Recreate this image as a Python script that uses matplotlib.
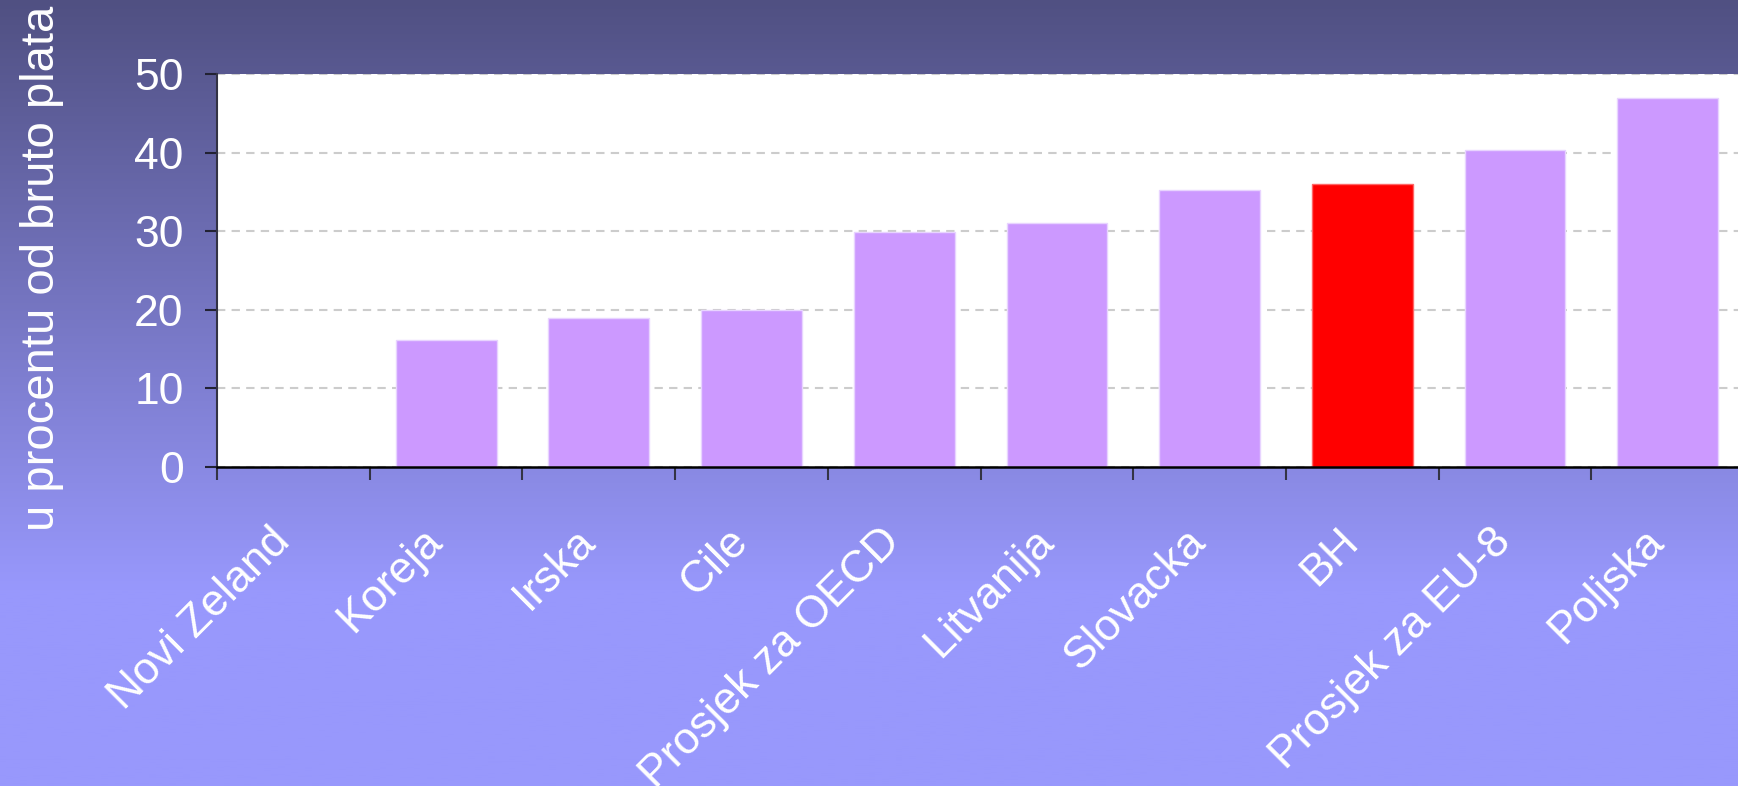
import numpy as np
import matplotlib
matplotlib.use('Agg')
import matplotlib.pyplot as plt
from matplotlib.transforms import ScaledTranslation

categories = ['Novi Zeland', 'Koreja', 'Irska', 'Cile', 'Prosjek za OECD',
              'Litvanija', 'Slovacka', 'BH', 'Prosjek za EU-8', 'Poljska']
values = [0, 16.1, 18.9, 20.0, 29.9, 31.0, 35.3, 36.0, 40.3, 46.9]
highlight = 'BH'
yticks = [0, 10, 20, 30, 40, 50]
ylabel = 'u procentu od bruto plata'

plt.rcParams['font.family'] = ['Liberation Sans', 'DejaVu Sans']

fig = plt.figure(figsize=(17.38, 7.86), dpi=100)

# background gradient
bg = fig.add_axes([0, 0, 1, 1], zorder=-10)
n = 400
t = np.linspace(0, 1, n)  # 0 = top
f = np.clip(t / 0.75, 0, 1)
top = np.array([80, 80, 130]) / 255
bot = np.array([152, 152, 252]) / 255
grad = top[None, :] * (1 - f[:, None]) + bot[None, :] * f[:, None]
bg.imshow(grad[:, None, :], aspect='auto', extent=[0, 1, 0, 1])
bg.set_axis_off()

ax = fig.add_axes([0.1249, 0.4059, 0.8786, 0.5])
ax.set_facecolor('white')
x = np.arange(len(categories)) + 0.5
colors = ['#FF0000' if c == highlight else '#CC99FF' for c in categories]
edges = ['#FF6666' if c == highlight else '#E8D4FF' for c in categories]
ax.bar(x, values, width=0.66, color=colors, edgecolor=edges, linewidth=1, zorder=3)

ax.set_xlim(0, len(categories))
ax.set_ylim(0, 50)
ax.set_yticks(yticks)
ax.yaxis.grid(True, color='#cccccc', linewidth=1.5, linestyle=(0, (4, 3)), zorder=1)
ax.set_axisbelow(True)

ax.set_xticks(np.arange(len(categories)))
ax.set_xticks(x, minor=True)
ax.set_xticklabels(categories, minor=True, rotation=45, ha='right', va='center',
                   rotation_mode='anchor')
ax.tick_params(axis='x', which='major', length=9.4, width=1.5, color='#333344',
               direction='out', labelbottom=False)
ax.tick_params(axis='x', which='minor', length=0, pad=49, labelsize=32,
               labelcolor='white')
off = ScaledTranslation(-10 / 100, 0, fig.dpi_scale_trans)
for lab in ax.get_xticklabels(minor=True):
    lab.set_transform(lab.get_transform() + off)
ax.tick_params(axis='y', length=8.6, width=1.5, color='#222233', pad=15.5,
               labelsize=32, labelcolor='white')

for s in ['top', 'right']:
    ax.spines[s].set_visible(False)
ax.spines['left'].set_color('#333344')
ax.spines['left'].set_linewidth(1.5)
ax.spines['bottom'].set_color('#000000')
ax.spines['bottom'].set_linewidth(1.8)
ax.spines['bottom'].set_zorder(4)

fig.text(0.024, 0.659, ylabel, rotation=90, ha='center', va='center',
         fontsize=34, color='white')

fig.savefig('out.png', dpi=100)
